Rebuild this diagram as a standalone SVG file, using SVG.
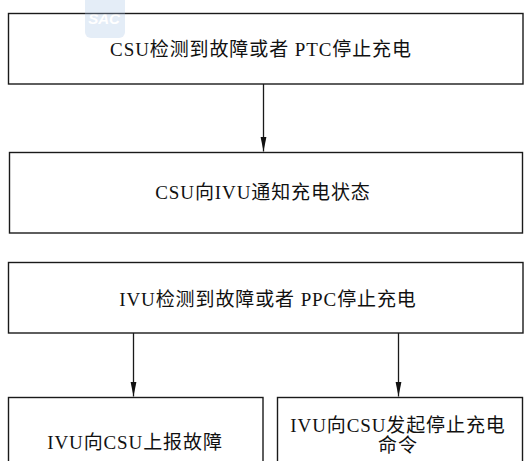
<svg xmlns="http://www.w3.org/2000/svg" width="524" height="461" viewBox="0 0 524 461">
<defs>
<style>
.box{fill:#fff;stroke:#1a1a1a;stroke-width:1.4}
.lbl{font-family:"Liberation Serif","Noto Sans CJK SC",serif;font-size:19px;fill:#111;text-anchor:middle;letter-spacing:0.9px}
.con{stroke:#1a1a1a;stroke-width:1.3;fill:none}
</style>
<marker id="arr" markerUnits="userSpaceOnUse" markerWidth="16" markerHeight="8" refX="15" refY="4" orient="auto" viewBox="0 0 16 8">
<path d="M0,1 L15,4 L0,7 Z" fill="#111"/>
</marker>
</defs>
<rect width="524" height="461" fill="#fff"/>
<g id="n1">
<rect class="box" x="8.5" y="13.5" width="514.5" height="70.5"/>
<text class="lbl" x="261" y="56">CSU检测到故障或者 PTC停止充电</text>
</g>
<g id="n2">
<rect class="box" x="9.5" y="152.5" width="513" height="80.5"/>
<text class="lbl" x="263" y="199">CSU向IVU通知充电状态</text>
</g>
<g id="n3">
<rect class="box" x="8.5" y="262.5" width="514.5" height="70.5"/>
<text class="lbl" x="268" y="306">IVU检测到故障或者 PPC停止充电</text>
</g>
<g id="n4">
<rect class="box" x="8.5" y="397.5" width="254.5" height="80"/>
<text class="lbl" x="135" y="449">IVU向CSU上报故障</text>
</g>
<g id="n5">
<rect class="box" x="277.5" y="397.5" width="245" height="80"/>
<text class="lbl" x="398" y="432">IVU向CSU发起停止充电</text>
<text class="lbl" x="398" y="452">命令</text>
</g>
<g id="connectors">
<line class="con" x1="263.5" y1="84" x2="263.5" y2="151.5" marker-end="url(#arr)"/>
<line class="con" x1="133.5" y1="333" x2="133.5" y2="396.5" marker-end="url(#arr)"/>
<line class="con" x1="398.5" y1="333" x2="398.5" y2="396.5" marker-end="url(#arr)"/>
</g>
<g id="watermark" opacity="0.3">
<rect x="85" y="-6" width="40" height="44" rx="6" fill="#a9c4e6"/>
<text x="104" y="24" font-family="Liberation Sans,sans-serif" font-size="15" font-weight="bold" font-style="italic" fill="#fff" text-anchor="middle">SAC</text>
</g>
</svg>
